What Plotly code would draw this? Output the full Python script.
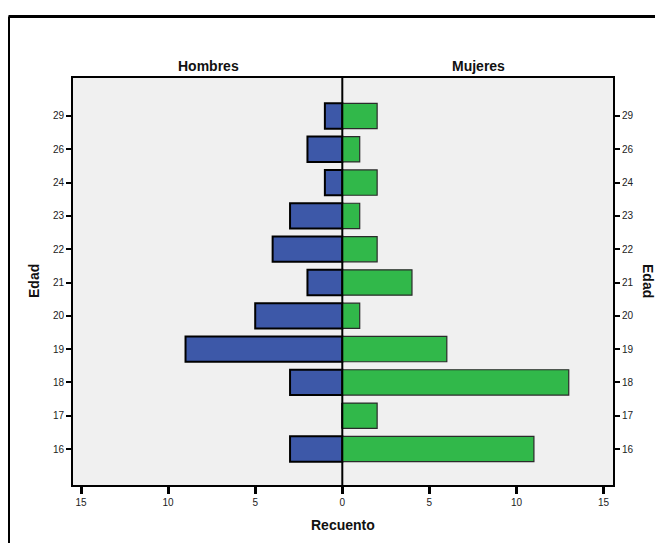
import plotly.graph_objects as go

edades = ["16", "17", "18", "19", "20", "21", "22", "23", "24", "26", "29"]
hombres = [3, 0, 3, 9, 5, 2, 4, 3, 1, 2, 1]
mujeres = [11, 2, 13, 6, 1, 4, 2, 1, 2, 1, 2]
xtick_vals = [-15, -10, -5, 0, 5, 10, 15]
xtick_text = ["15", "10", "5", "0", "5", "10", "15"]

FONT = "Liberation Sans, Arial, sans-serif"

fig = go.Figure()
fig.add_trace(go.Bar(
    y=edades, x=[-v for v in hombres], orientation="h", width=0.76,
    marker=dict(color="#3D58A8", line=dict(color="black", width=2)),
    name="Hombres", yaxis="y", hoverinfo="skip"))
fig.add_trace(go.Bar(
    y=edades, x=mujeres, orientation="h", width=0.76,
    marker=dict(color="#31B84A", line=dict(color="#2a2a2a", width=1.2)),
    name="Mujeres", yaxis="y", hoverinfo="skip"))
fig.add_trace(go.Scatter(y=edades, x=[0]*len(edades), yaxis="y2", mode="markers",
                         marker=dict(opacity=0), showlegend=False, hoverinfo="skip"))

# page offset (body margin) compensation
O = 8
W, H = 663 - O, 543 - O
L, R, T, B = 73 - O, 613 - O, 78 - O, 485 - O
pw, ph = R - L, B - T

def px(xp):
    return (xp - O - L) / pw

def py(yp):
    return (B - (yp - O)) / ph

fig.update_layout(
    width=W, height=H,
    margin=dict(l=L, r=W - R, t=T, b=H - B, pad=0, autoexpand=False),
    paper_bgcolor="white", plot_bgcolor="#F0F0F0",
    barmode="overlay", showlegend=False,
    font=dict(family=FONT, color="#222"),
    xaxis=dict(range=[-15.46, 15.54], tickvals=xtick_vals, ticktext=xtick_text,
               showgrid=False, zeroline=False, showline=True, mirror=True,
               linecolor="black", linewidth=2, ticks="outside", ticklen=7,
               tickwidth=2.5, tickcolor="black", tickfont=dict(size=10, color="#222")),
    yaxis=dict(type="category", categoryorder="array", categoryarray=edades,
               range=[-1.08, 11.14], showgrid=False, zeroline=False,
               showline=True, linecolor="black", linewidth=2,
               ticks="outside", ticklen=5, tickwidth=1.5, tickcolor="black",
               tickfont=dict(size=10, color="#222")),
    yaxis2=dict(type="category", categoryorder="array", categoryarray=edades,
                range=[-1.08, 11.14], overlaying="y", side="right",
                showgrid=False, zeroline=False, showline=True, linecolor="black",
                linewidth=2, ticks="outside", ticklen=5, tickwidth=1.5,
                tickcolor="black", tickfont=dict(size=10, color="#222")),
)

fig.add_shape(type="line", xref="x", yref="paper", x0=0, x1=0, y0=0, y1=1,
              line=dict(color="black", width=2), layer="above")

fig.add_shape(type="line", xref="paper", yref="paper", x0=px(8.5), x1=px(670),
              y0=py(16.5), y1=py(16.5), line=dict(color="black", width=3))
fig.add_shape(type="line", xref="paper", yref="paper", x0=px(8.5), x1=px(8.5),
              y0=py(16.5), y1=py(560), line=dict(color="black", width=3))

ann_font = dict(family=FONT, size=14, color="#111")

def ann(text, x, y, angle=0):
    fig.add_annotation(text=text, xref="paper", yref="paper", x=px(x), y=py(y),
                       xanchor="center", yanchor="middle", showarrow=False,
                       textangle=angle, font=ann_font)

ann("<b>Hombres</b>", 208, 66)
ann("<b>Mujeres</b>", 478, 66)
ann("<b>Recuento</b>", 343, 525)
ann("<b>Edad</b>", 34, 281, -90)
ann("<b>Edad</b>", 648, 281, 90)

fig.write_html("out.html")
